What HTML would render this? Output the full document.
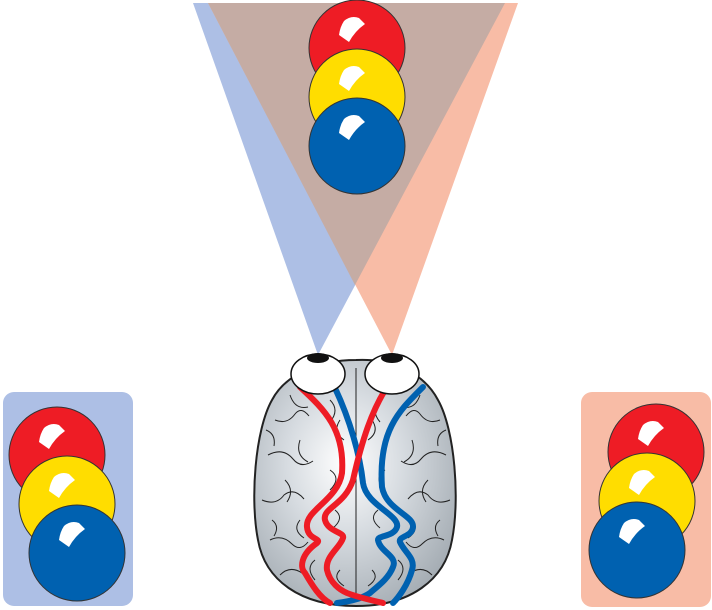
<!DOCTYPE html>
<html><head><style>html,body{margin:0;padding:0;background:#fff;}svg{display:block}</style></head>
<body>
<svg width="712" height="610" viewBox="0 0 712 610" xmlns="http://www.w3.org/2000/svg">
<defs>
<radialGradient id="bg" cx="0.45" cy="0.42" r="0.65">
<stop offset="0" stop-color="#ffffff"/><stop offset="0.45" stop-color="#d6dbe0"/><stop offset="1" stop-color="#a3abb2"/>
</radialGradient>
<g id="hl"><path d="M-13,-27 Q-6,-33 2,-30 L8,-24 Q-2,-17 -8,-6 L-18,-13 Q-17,-21 -13,-27 Z" fill="#fff"/></g>
</defs>
<polygon points="193,3 505,3 318,355" fill="#adbfe5"/>
<polygon points="208,3 518,3 392,355" fill="#f8bca6"/>
<polygon points="208,3 505,3 355,285" fill="#c5aca4"/>
<g stroke="#333" stroke-width="1">
<circle cx="357" cy="48" r="48" fill="#ee1c25"/>
<circle cx="357" cy="97" r="48" fill="#ffdd00"/>
<circle cx="357" cy="146" r="48" fill="#0061b0"/>
</g>
<use href="#hl" x="357" y="48"/><use href="#hl" x="357" y="97"/><use href="#hl" x="357" y="146"/>
<rect x="3" y="392" width="130" height="214" rx="11" fill="#adbfe5"/>
<g stroke="#333" stroke-width="1">
<circle cx="57" cy="455" r="48" fill="#ee1c25"/>
<circle cx="67" cy="504" r="48" fill="#ffdd00"/>
<circle cx="77" cy="553" r="48" fill="#0061b0"/>
</g>
<use href="#hl" x="57" y="455"/><use href="#hl" x="67" y="504"/><use href="#hl" x="77" y="553"/>
<rect x="581" y="392" width="130" height="215" rx="11" fill="#f8bca6"/>
<g stroke="#333" stroke-width="1">
<circle cx="656" cy="452" r="48" fill="#ee1c25"/>
<circle cx="647" cy="501" r="48" fill="#ffdd00"/>
<circle cx="637" cy="550" r="48" fill="#0061b0"/>
</g>
<use href="#hl" x="656" y="452"/><use href="#hl" x="647" y="501"/><use href="#hl" x="637" y="550"/>
<path d="M356,360 C395,358 425,375 438,400 C455,430 460,500 452,540 C445,580 410,606 356,606 C300,606 265,580 258,540 C250,500 255,430 272,400 C285,375 318,360 356,360 Z" fill="url(#bg)" stroke="#222" stroke-width="2"/>
<g fill="none" stroke="#222" stroke-width="1">
<path d="M356,368 L356,600"/>
<path d="M275,420 q12,5 20,-6 q6,-8 14,2 M268,455 q15,-8 25,4 q8,10 20,2 M262,500 q14,6 22,-5 q10,-8 20,4 M270,540 q12,-6 22,4 q8,8 16,-2 M280,575 q10,-10 22,-2"/>
<path d="M290,395 q5,15 18,12 M300,440 q-5,15 8,22 M285,480 q10,10 2,22 M300,520 q-8,10 4,18 M315,560 q-10,8 0,20 M266,430 q10,4 8,16 M272,520 q8,6 2,16"/>
<path d="M440,420 q-12,5 -20,-6 q-6,-8 -14,2 M446,455 q-15,-8 -25,4 q-8,10 -20,2 M450,500 q-14,6 -22,-5 q-10,-8 -20,4 M444,540 q-12,-6 -22,4 q-8,8 -16,-2 M432,575 q-10,-10 -22,-2"/>
<path d="M420,395 q-5,15 -18,12 M412,440 q5,15 -8,22 M428,480 q-10,10 -2,22 M412,520 q8,10 -4,18 M398,560 q10,8 0,20 M446,430 q-10,4 -8,16 M440,520 q-8,6 -2,16"/>
<path d="M330,400 q10,10 0,22 M380,400 q-10,10 0,22 M330,470 q12,8 0,20 M385,470 q-12,8 0,20 M340,420 q-8,12 4,20 M372,420 q8,12 -4,20 M335,510 q10,8 -2,18 M378,510 q-10,8 2,18 M340,570 q-8,8 4,16 M372,570 q8,8 -4,16"/>
</g>
<g fill="none" stroke-width="6" stroke-linecap="round" stroke-linejoin="round">
<path stroke="#ee1c25" d="M300,387 C325,410 345,430 342,473 C338,500 305,510 307,527 C308,540 322,538 317,543 C300,555 300,568 305,573 C312,585 320,598 330,603"/>
<path stroke="#0061b0" d="M335,388 C350,420 360,455 363,483 C366,505 400,515 397,527 C394,537 378,535 378,540 C380,552 398,556 393,567 C388,580 375,588 370,593 C360,600 345,602 337,603"/>
<path stroke="#0061b0" d="M423,387 C400,410 378,430 382,487 C386,510 414,515 413,527 C412,537 398,536 400,542 C404,552 416,558 412,570 C408,585 398,598 393,603"/>
<path stroke="#ee1c25" d="M387,387 C372,410 362,440 353,480 C345,505 322,508 325,520 C328,532 345,532 343,538 C340,548 325,556 327,570 C330,583 340,590 347,593 C360,598 375,601 383,603"/>
</g>
<ellipse cx="318" cy="374" rx="27" ry="20" fill="#fff" stroke="#111" stroke-width="1.5"/>
<ellipse cx="318" cy="358" rx="11" ry="5" fill="#111"/>
<ellipse cx="392" cy="374" rx="27" ry="20" fill="#fff" stroke="#111" stroke-width="1.5"/>
<ellipse cx="392" cy="358" rx="11" ry="5" fill="#111"/>
</svg>
</body></html>
